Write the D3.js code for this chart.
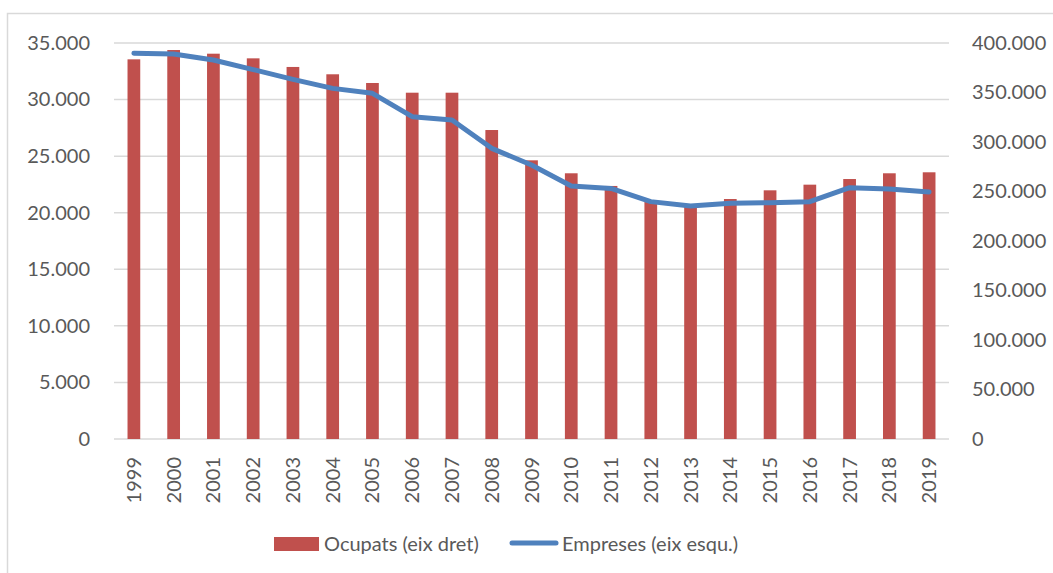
<!DOCTYPE html>
<html>
<head>
<meta charset="utf-8">
<script src="https://cdn.jsdelivr.net/npm/d3@7"></script>
<style>
  body { margin: 0; background: #fff; }
  text { font-family: Lato, "Open Sans", sans-serif; fill: #595959; }
</style>
</head>
<body>
<div id="chart"></div>
<script>
// Data
const years = ["1999","2000","2001","2002","2003","2004","2005","2006","2007","2008","2009",
  "2010","2011","2012","2013","2014","2015","2016","2017","2018","2019"];
// Ocupats (bars, right axis)
const ocupats = [383500, 392900, 389200, 384500, 375800, 368400, 359600, 349800, 349800, 312100,
  281500, 268400, 255600, 239700, 234700, 242400, 251200, 256900, 262600, 268400, 269400];
// Empreses (line, left axis)
const empreses = [34090, 34030, 33500, 32650, 31790, 30990, 30550, 28490, 28200, 25690,
  24220, 22360, 22150, 20980, 20590, 20830, 20890, 20980, 22210, 22100, 21840];
const leftTicks = [0, 5000, 10000, 15000, 20000, 25000, 30000, 35000];
const rightTicks = [0, 50000, 100000, 150000, 200000, 250000, 300000, 350000, 400000];

const width = 1053, height = 573;
const margin = { top: 43, left: 114, right: 104, bottom: 134 };

const fmt = (v) => d3.format(",")(v).replace(/,/g, ".");

const svg = d3.select("#chart").append("svg")
  .attr("width", width).attr("height", height);

// chart frame (only top/left visible in the picture)
svg.append("rect")
  .attr("x", 7.5).attr("y", 13.5)
  .attr("width", 1100).attr("height", 700)
  .attr("fill", "none").attr("stroke", "#d9d9d9").attr("stroke-width", 1.5);

const x = d3.scaleBand()
  .domain(years)
  .range([margin.left, width - margin.right])
  .paddingInner(0.68).paddingOuter(0.34);

const yL = d3.scaleLinear().domain([0, 35000]).range([height - margin.bottom, margin.top]);
const yR = d3.scaleLinear().domain([0, 400000]).range([height - margin.bottom, margin.top]);

// gridlines
svg.append("g")
  .selectAll("line")
  .data(leftTicks)
  .join("line")
  .attr("x1", margin.left).attr("x2", width - margin.right)
  .attr("y1", (d) => yL(d)).attr("y2", (d) => yL(d))
  .attr("stroke", "#d9d9d9").attr("stroke-width", 1.5);

// bars
svg.append("g")
  .selectAll("rect")
  .data(ocupats)
  .join("rect")
  .attr("x", (d, i) => x(years[i]))
  .attr("width", x.bandwidth())
  .attr("y", (d) => yR(d))
  .attr("height", (d) => yR(0) - yR(d))
  .attr("fill", "#c0504d");

// line
const line = d3.line()
  .x((d, i) => x(years[i]) + x.bandwidth() / 2)
  .y((d) => yL(d));

svg.append("path")
  .datum(empreses)
  .attr("d", line)
  .attr("fill", "none")
  .attr("stroke", "#4f81bd")
  .attr("stroke-width", 5)
  .attr("stroke-linecap", "round")
  .attr("stroke-linejoin", "round");

// left axis
const leftAxis = d3.axisLeft(yL).tickValues(leftTicks).tickFormat(fmt).tickSize(0).tickPadding(24);
svg.append("g")
  .attr("transform", `translate(${margin.left},0)`)
  .call(leftAxis)
  .call((g) => g.select(".domain").remove())
  .selectAll("text")
  .style("font-size", "20px")
  .attr("fill", "#595959");

// right axis
const rightAxis = d3.axisRight(yR).tickValues(rightTicks).tickFormat(fmt).tickSize(0).tickPadding(23);
svg.append("g")
  .attr("transform", `translate(${width - margin.right},0)`)
  .call(rightAxis)
  .call((g) => g.select(".domain").remove())
  .selectAll("text")
  .style("font-size", "20px")
  .attr("fill", "#595959");

// bottom axis, rotated labels
const bottom = svg.append("g")
  .attr("transform", `translate(0,${height - margin.bottom})`)
  .call(d3.axisBottom(x).tickSize(0).tickPadding(0));
bottom.select(".domain").remove();
bottom.selectAll("text")
  .style("font-size", "20px")
  .attr("fill", "#595959")
  .attr("text-anchor", "end")
  .attr("dy", "0.35em")
  .attr("transform", "translate(0,18) rotate(-90)")
  .attr("x", 0).attr("y", 0);

// legend
const legend = svg.append("g");
legend.append("rect")
  .attr("x", 274).attr("y", 537).attr("width", 45).attr("height", 14)
  .attr("fill", "#c0504d");
legend.append("text")
  .attr("x", 324).attr("y", 544).attr("dy", "0.35em")
  .style("font-size", "20px")
  .text("Ocupats (eix dret)");
legend.append("line")
  .attr("x1", 512).attr("x2", 556).attr("y1", 543).attr("y2", 543)
  .attr("stroke", "#4f81bd").attr("stroke-width", 5).attr("stroke-linecap", "round");
legend.append("text")
  .attr("x", 562).attr("y", 544).attr("dy", "0.35em")
  .style("font-size", "20px")
  .text("Empreses (eix esqu.)");
</script>
</body>
</html>
